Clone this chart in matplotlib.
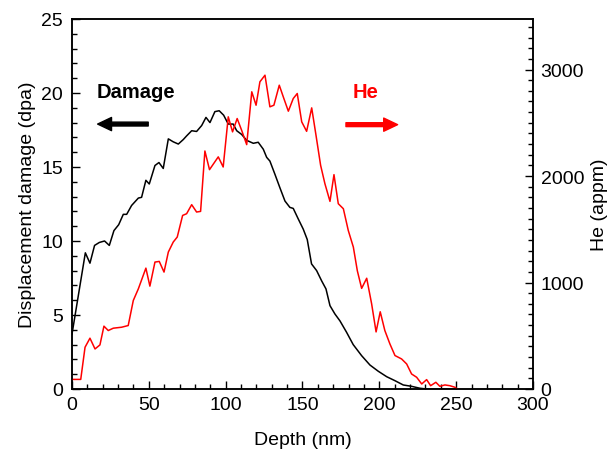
import matplotlib
matplotlib.use('Agg')
import matplotlib.pyplot as plt
from matplotlib.ticker import MultipleLocator

plt.rcParams['font.family'] = ['Liberation Sans', 'DejaVu Sans']

# Displacement damage profile (dpa) vs depth (nm)
dmg_depth = [0, 8.7, 11.7, 14.7, 17.8, 21.2, 24.3, 27.3, 30.4, 33.4,
             35.6, 38.8, 43.2, 45.3, 48.1, 50.3, 54, 56.6, 59.4, 62.7,
             65.9, 69.2, 72.4, 74.6, 77.9, 81.1, 84.4, 87.2, 89.8, 93,
             95.8, 98.7, 101.7, 104.9, 107.2, 110.4, 113.7, 118, 121.2, 124.5,
             126.7, 128.8, 132.1, 135.3, 138.6, 141.8, 144, 147.2, 150.5, 153.1,
             155.9, 159.2, 162.5, 165.3, 167.9, 171.1, 174.4, 178.7, 183, 188.5,
             193.9, 199.3, 204.8, 210.2, 215.6, 221, 226.4, 230.8, 250]
dmg = [3.7, 9.2, 8.5, 9.7, 9.9, 10.0, 9.7, 10.7, 11.1, 11.8,
       11.8, 12.4, 12.9, 12.95, 14.1, 13.85, 15.1, 15.3, 14.9, 16.9,
       16.7, 16.55, 16.85, 17.1, 17.45, 17.4, 17.8, 18.35, 18.0, 18.74,
       18.8, 18.5, 17.9, 17.9, 17.45, 17.2, 16.8, 16.6, 16.67, 16.2,
       15.65, 15.4, 14.5, 13.6, 12.7, 12.27, 12.2, 11.5, 10.8, 10.1,
       8.45, 8.0, 7.3, 6.76, 5.63, 5.07, 4.6, 3.83, 3.0, 2.25,
       1.62, 1.2, 0.83, 0.56, 0.27, 0.18, 0.05, 0, 0]

# He concentration profile (appm) vs depth (nm)
he_depth = [0, 5.7, 8.5, 11.7, 15, 18.2, 20.8, 23.6, 26.9, 32.3,
            36.6, 39.9, 43.2, 48.1, 50.7, 54, 56.8, 59.9, 62.7, 65.9,
            68.5, 72, 74.6, 77.9, 81.1, 83.7, 86.5, 89.5, 95.2, 98.4,
            101.7, 104.5, 107.5, 110.4, 113.7, 117, 119.8, 122.3, 125.6, 128.8,
            131.4, 134.9, 137.5, 140.8, 144, 146.6, 149.5, 152.7, 156, 158.8,
            161.8, 164.6, 167.9, 170.5, 173.3, 176.6, 179.8, 183.1, 185.7, 188.5,
            191.8, 195, 197.9, 200.6, 203.6, 206.9, 210.2, 214.5, 217.8, 221,
            224.3, 227.6, 230.8, 233.4, 236.8, 239.4, 242.7, 245.9, 249.2, 250.7]
he = [90, 90, 392, 477, 376, 414, 590, 549, 571, 580,
      596, 831, 941, 1135, 966, 1192, 1198, 1098, 1286, 1380,
      1427, 1630, 1646, 1731, 1662, 1668, 2235, 2060, 2180, 2085,
      2556, 2415, 2540, 2430, 2295, 2791, 2665, 2885, 2947, 2650,
      2665, 2853, 2744, 2609, 2728, 2775, 2509, 2420, 2640, 2383,
      2101, 1928, 1762, 2013, 1740, 1693, 1489, 1333, 1110, 945,
      1040, 800, 536, 725, 549, 423, 314, 282, 235, 141,
      110, 47, 88, 31, 63, 25, 38, 31, 16, 0]

fig = plt.figure(figsize=(6.11, 4.52), dpi=100)
ax = fig.add_axes([0.1178, 0.1372, 0.7545, 0.8186])
ax2 = ax.twinx()

ax.plot(dmg_depth, dmg, color='black', lw=1.1)
ax2.plot(he_depth, he, color='#ff0000', lw=1.1)

ax.set_xlim(0, 300)
ax.set_ylim(0, 25)
ax2.set_ylim(0, 3475)

ax.xaxis.set_major_locator(MultipleLocator(50))
ax.xaxis.set_minor_locator(MultipleLocator(10))
ax.yaxis.set_major_locator(MultipleLocator(5))
ax.yaxis.set_minor_locator(MultipleLocator(1))
ax2.yaxis.set_major_locator(MultipleLocator(1000))
ax2.yaxis.set_minor_locator(MultipleLocator(100))

for a in (ax, ax2):
    for s in a.spines.values():
        s.set_linewidth(1.1)
ax.tick_params(which='both', direction='in', top=False, right=False, labelsize=14, width=1.0)
ax.tick_params(which='major', length=6)
ax.tick_params(which='minor', length=3.5)
ax.tick_params(axis='x', which='both', pad=5)
ax.tick_params(axis='y', which='both', pad=6.5)
ax2.tick_params(which='both', direction='in', labelsize=14, width=1.0, pad=5.5)
ax2.tick_params(which='major', length=6)
ax2.tick_params(which='minor', length=3.5)

ax.set_xlabel('Depth (nm)', fontsize=14, labelpad=13)
ax.set_ylabel('Displacement damage (dpa)', fontsize=14, labelpad=4)
ax2.set_ylabel('He (appm)', fontsize=14, labelpad=5)

# Labels with direction arrows
ax.text(16.1, 20.07, 'Damage', fontsize=14.5, fontweight='bold', color='black', va='center', ha='left')
ax.annotate('', xy=(16.7, 17.9), xytext=(49.6, 17.9),
            arrowprops=dict(facecolor='black', edgecolor='black', width=2.8, headwidth=9.5, headlength=10, shrink=0))
ax.text(182.8, 20.07, 'He', fontsize=14.5, fontweight='bold', color='#ff0000', va='center', ha='left')
ax.annotate('', xy=(211.9, 17.86), xytext=(178.3, 17.86),
            arrowprops=dict(facecolor='#ff0000', edgecolor='#ff0000', width=2.8, headwidth=9.5, headlength=10, shrink=0))

plt.savefig('out.png', dpi=100)
plt.close()
